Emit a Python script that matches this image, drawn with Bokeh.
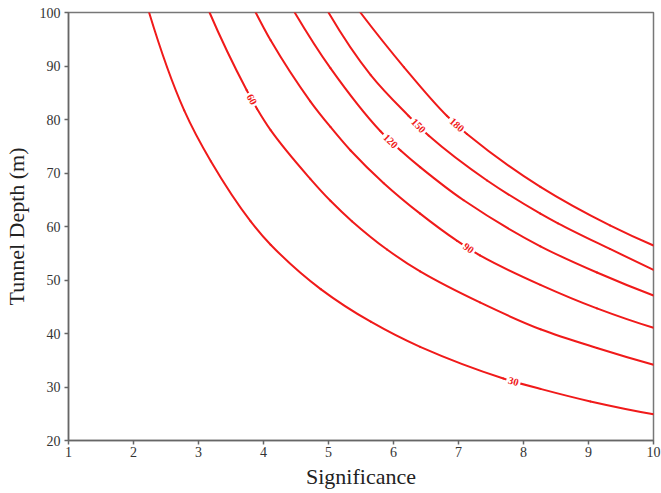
from bokeh.plotting import figure
from bokeh.models import Range1d, FixedTicker, ColumnDataSource
from bokeh.embed import file_html
from bokeh.resources import INLINE
from bokeh.core.properties import value
import math

# Contour levels and points (Significance, Tunnel Depth)
levels = ["30", "60", "90", "120", "150", "180"]

x30 = [2.24, 2.78, 3.19, 3.80, 4.11, 4.88, 5.65, 6.41, 7.69, 8.26, 9.03, 10.0]
y30 = [100, 81.7, 72.2, 61.0, 56.6, 48.3, 42.2, 37.5, 31.6, 29.65, 27.3, 24.9]

x60 = [3.17, 3.74, 3.90, 4.11, 4.72, 5.03, 5.36, 5.90, 6.41, 7.33, 8.26, 9.13, 10.0]
y60 = [100, 85.5, 82.0, 78.0, 68.9, 64.8, 61.0, 55.7, 51.6, 45.8, 40.8, 37.3, 34.15]

x90 = [3.88, 4.11, 4.72, 5.03, 5.34, 5.85, 6.41, 6.98, 7.33, 8.26, 9.13, 10.0]
y90 = [100, 94.8, 83.4, 78.6, 74.2, 68.1, 62.4, 57.3, 54.6, 49.1, 44.7, 41.07]

x120 = [4.48, 5.03, 5.80, 6.11, 6.41, 7.08, 8.26, 9.13, 10.0]
y120 = [100, 89.6, 77.8, 74.2, 71.1, 64.9, 56.3, 51.4, 47.1]

x150 = [5.00, 5.65, 6.23, 6.54, 7.44, 8.26, 8.53, 9.33, 10.0]
y150 = [100, 88.3, 80.7, 77.0, 68.6, 62.4, 60.6, 55.8, 51.9]

x180 = [5.49, 6.16, 6.82, 7.13, 8.26, 9.33, 10.0]
y180 = [100, 89.8, 80.7, 77.3, 67.4, 60.2, 56.45]

# inline contour label anchors (data coords) and angles (degrees)
label_x = [7.845, 3.82, 7.155, 5.955, 6.385, 6.975]
label_y = [31.05, 83.75, 55.95, 75.95, 78.85, 79.0]
label_angle_deg = [-16, -62, -36, -44, -46, -42]

x_ticks = [1, 2, 3, 4, 5, 6, 7, 8, 9, 10]
y_ticks = [20, 30, 40, 50, 60, 70, 80, 90, 100]

RED = "#f01a1a"
SERIF = "Liberation Serif"


def smooth_segments(xs, ys):
    """Monotone cubic (PCHIP) through the read points, as Bezier segments."""
    n = len(xs)
    h = [xs[i + 1] - xs[i] for i in range(n - 1)]
    d = [(ys[i + 1] - ys[i]) / h[i] for i in range(n - 1)]
    m = [0.0] * n
    for k in range(1, n - 1):
        if d[k - 1] * d[k] <= 0:
            m[k] = 0.0
        else:
            w1 = 2 * h[k] + h[k - 1]
            w2 = h[k] + 2 * h[k - 1]
            m[k] = (w1 + w2) / (w1 / d[k - 1] + w2 / d[k])

    def end_slope(h0, h1, d0, d1):
        s = ((2 * h0 + h1) * d0 - h0 * d1) / (h0 + h1)
        if s * d0 <= 0:
            return 0.0
        if d0 * d1 < 0 and abs(s) > 3 * abs(d0):
            return 3 * d0
        return s

    m[0] = end_slope(h[0], h[1], d[0], d[1])
    m[-1] = end_slope(h[-1], h[-2], d[-1], d[-2])
    seg = dict(x0=[], y0=[], x1=[], y1=[], cx0=[], cy0=[], cx1=[], cy1=[])
    for i in range(n - 1):
        seg["x0"].append(xs[i]); seg["y0"].append(ys[i])
        seg["x1"].append(xs[i + 1]); seg["y1"].append(ys[i + 1])
        seg["cx0"].append(xs[i] + h[i] / 3); seg["cy0"].append(ys[i] + m[i] * h[i] / 3)
        seg["cx1"].append(xs[i + 1] - h[i] / 3); seg["cy1"].append(ys[i + 1] - m[i + 1] * h[i] / 3)
    return seg


p = figure(width=661, height=493, output_backend="svg", toolbar_location=None,
           x_range=Range1d(1, 10), y_range=Range1d(20, 100),
           min_border_left=68, min_border_right=8, min_border_top=12, min_border_bottom=53)

p.grid.visible = False
p.background_fill_color = "white"
p.border_fill_color = "white"
p.outline_line_color = "#777777"
p.outline_line_width = 1.5

curves = [(x30, y30), (x60, y60), (x90, y90), (x120, y120), (x150, y150), (x180, y180)]
for xs, ys in curves:
    p.bezier(source=ColumnDataSource(smooth_segments(xs, ys)),
             x0="x0", y0="y0", x1="x1", y1="y1",
             cx0="cx0", cy0="cy0", cx1="cx1", cy1="cy1",
             line_color=RED, line_width=2, line_cap="round")

src = ColumnDataSource(dict(x=label_x, y=label_y, text=levels,
                            angle=[math.radians(a) for a in label_angle_deg]))
p.text(x="x", y="y", text="text", angle="angle", source=src,
       text_color=RED, text_font=value(SERIF), text_font_style="bold",
       text_font_size="10.5px", text_align="center", text_baseline="middle",
       background_fill_color="white", padding=2)

for ax in (p.xaxis[0], p.yaxis[0]):
    ax.axis_line_color = "#666666"
    ax.axis_line_width = 1.5
    ax.major_tick_line_color = "#666666"
    ax.major_tick_line_width = 1.5
    ax.major_tick_in = 0
    ax.major_tick_out = 4
    ax.minor_tick_line_color = None
    ax.major_label_text_font = SERIF
    ax.major_label_text_font_size = "14px"
    ax.major_label_text_color = "#333333"
    ax.axis_label_text_font = SERIF
    ax.axis_label_text_font_size = "22px"
    ax.axis_label_text_font_style = "normal"
    ax.axis_label_text_color = "#222222"

p.xaxis.ticker = FixedTicker(ticks=x_ticks)
p.yaxis.ticker = FixedTicker(ticks=y_ticks)
p.xaxis.axis_label = "Significance"
p.yaxis.axis_label = "Tunnel Depth (m)"
p.xaxis.major_label_standoff = 2
p.yaxis.major_label_standoff = 4
p.xaxis.axis_label_standoff = 4
p.yaxis.axis_label_standoff = 8

open("out.html", "w").write(file_html(p, INLINE))
